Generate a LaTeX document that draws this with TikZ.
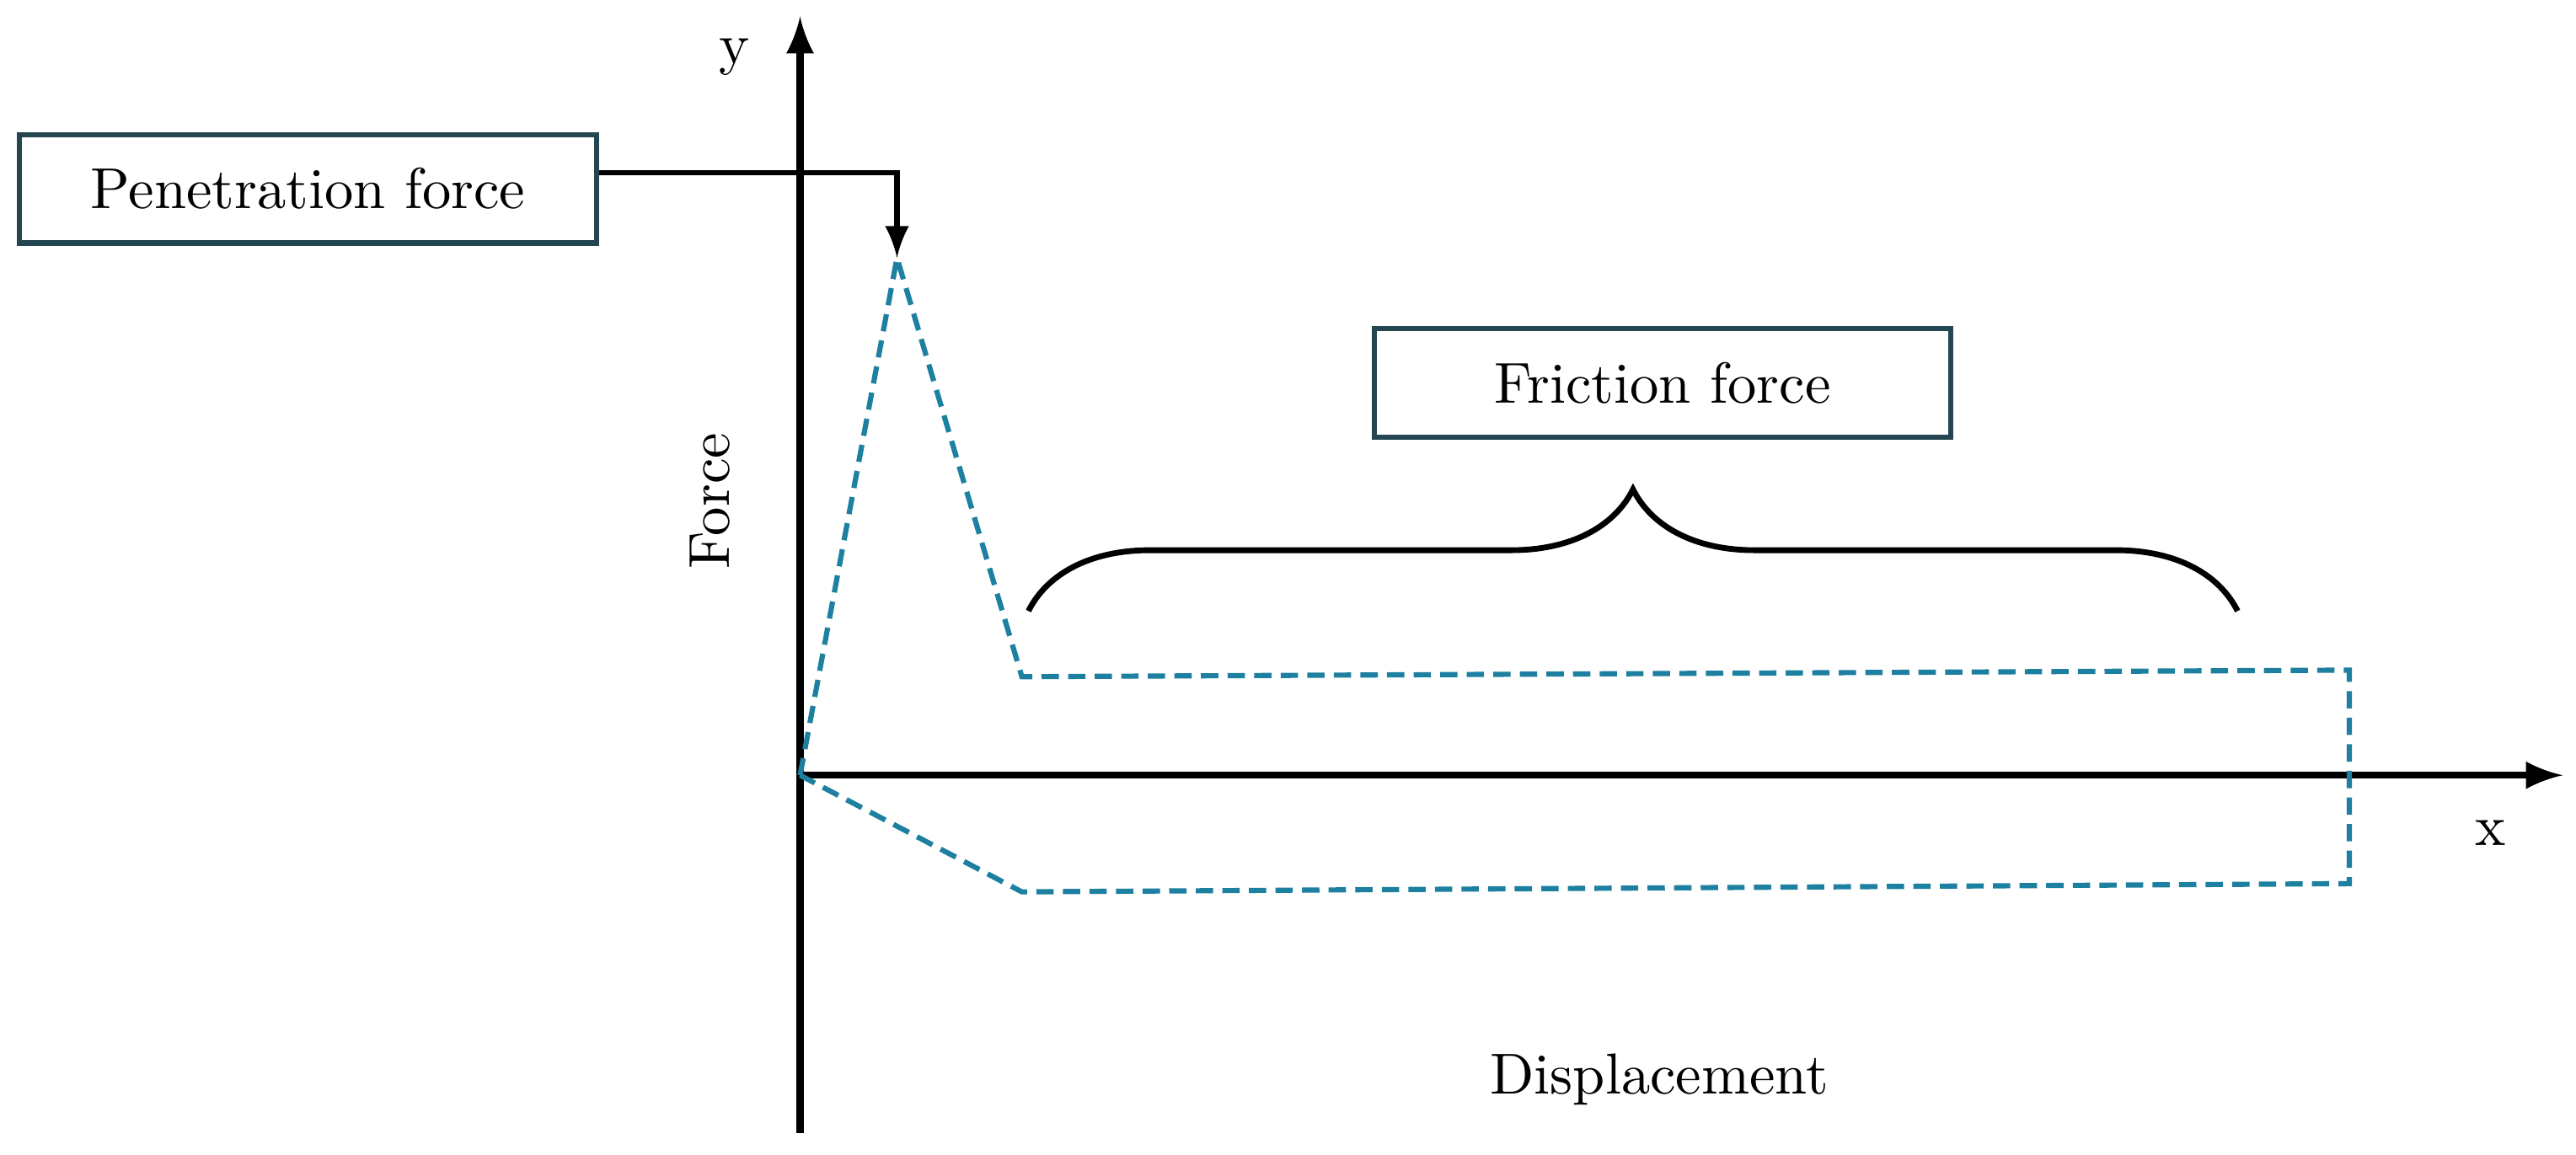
\documentclass[tikz,border=0pt]{standalone}
\usetikzlibrary{decorations.pathreplacing}
\definecolor{curveblue}{RGB}{30,128,160}
\definecolor{boxedge}{RGB}{35,70,80}
\tikzset{
    label box/.style={draw=boxedge, line width=0.9pt, minimum width=3.51cm, minimum height=0.66cm, inner sep=0pt},
    curve/.style={curveblue, line width=0.9pt, dash pattern=on 3pt off 1.6pt},
    axis/.style={line width=1.2pt, -latex}
}
\begin{document}
\begin{tikzpicture}[x=0.01cm, y=-0.01cm]
    \useasboundingbox (0,0) rectangle (1568,703);

    % Axes.
    \coordinate (xs) at (487,472);
    \coordinate (xe) at (1560,472);
    \coordinate (ys) at (487,690);
    \coordinate (ye) at (487,10);
    \draw [axis] (xs) -- (xe);
    \draw [axis] (ys) -- (ye);
    \node (ylab) at (447,35) {y};
    \node (xlab) at (1516,507) {x};
    \node [rotate=90] (force) at (432,305) {Force};
    \node (disp) at (1010,657) {Displacement};

    % Curve.
    \coordinate (o) at (487,472);
    \coordinate (peak) at (546,157);
    \coordinate (p1) at (622,412);
    \coordinate (p2) at (1430,408);
    \coordinate (p3) at (1430,538);
    \coordinate (p4) at (622,543);
    \draw [curve] (o) -- (peak) -- (p1) -- (p2) -- (p3) -- (p4) -- cycle;

    % Labels.
    \node [label box] (pen) at (187.5,115) {Penetration force};
    \node [label box] (fric) at (1012,233) {Friction force};
    \draw [line width=0.9pt, -latex] (pen.east |- 0,105) -| (peak);

    % Brace.
    \coordinate (bl) at (626,372);
    \coordinate (br) at (1362,372);
    \draw [line width=1pt, decorate, decoration={brace, amplitude=0.74cm}] (bl) -- (br);
\end{tikzpicture}
\end{document}
